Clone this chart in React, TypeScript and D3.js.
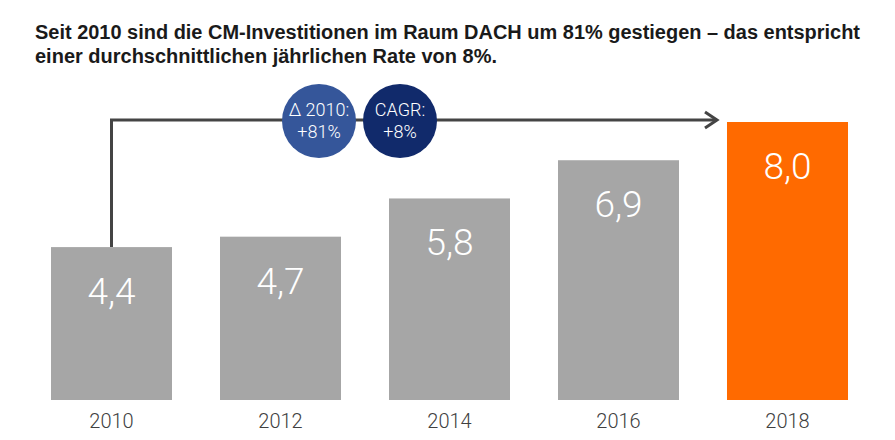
import React from 'react';
import * as d3 from 'd3';

const years = ['2010', '2012', '2014', '2016', '2018'];
const values = [4.4, 4.7, 5.8, 6.9, 8.0];
const titleLines = [
    'Seit 2010 sind die CM-Investitionen im Raum DACH um 81% gestiegen – das entspricht',
    'einer durchschnittlichen jährlichen Rate von 8%.',
];
const badges = [
    { lines: ['Δ 2010:', '+81%'], color: '#35569a' },
    { lines: ['CAGR:', '+8%'], color: '#112a6b' },
];

const W = 895;
const H = 440;

export default function App() {
    const x = d3.scaleBand<string>().domain(years).range([27, 872]).paddingInner(0.284).paddingOuter(0.142);
    const y = d3.scaleLinear().domain([0, 8]).range([400, 122]);
    const fmt = (v: number) => d3.format('.1f')(v).replace('.', ',');

    const first = years[0];
    const lineX = x(first)! + x.bandwidth() / 2;
    const lineY = 120;
    const arrowEnd = x(years[years.length - 1])! - 10;
    const linePath = d3.path();
    linePath.moveTo(lineX, y(values[0]));
    linePath.lineTo(lineX, lineY);
    linePath.lineTo(arrowEnd, lineY);

    const badgeX = [319, 400];

    return (
        <svg width={W} height={H} style={{ position: 'absolute', left: 0, top: 0 }}>
            <rect width={W} height={H} fill="#fff" />
            {titleLines.map((t, i) => (
                <text
                    key={i}
                    x={35}
                    y={39 + i * 24}
                    fontFamily="'Liberation Sans Narrow', 'Arial Narrow', 'Liberation Sans', sans-serif"
                    fontWeight="bold"
                    fontSize={20}
                    fill="#1a1a1a"
                    textLength={i === 0 ? 825 : 462}
                    lengthAdjust="spacingAndGlyphs"
                >
                    {t}
                </text>
            ))}
            {values.map((v, i) => (
                <g key={years[i]}>
                    <rect
                        x={x(years[i])}
                        y={y(v)}
                        width={x.bandwidth()}
                        height={y(0) - y(v)}
                        fill={i === values.length - 1 ? '#ff6a00' : '#a6a6a6'}
                    />
                    <text
                        x={x(years[i])! + x.bandwidth() / 2}
                        y={y(v) + 57}
                        textAnchor="middle"
                        fontFamily="Roboto, 'Liberation Sans', sans-serif"
                        fontWeight={300}
                        fontSize={37}
                        fill="#fff"
                    >
                        {fmt(v)}
                    </text>
                    <text
                        x={x(years[i])! + x.bandwidth() / 2}
                        y={428}
                        textAnchor="middle"
                        fontFamily="Roboto, 'Liberation Sans', sans-serif"
                        fontWeight={300}
                        fontSize={20}
                        fill="#404040"
                    >
                        {years[i]}
                    </text>
                </g>
            ))}
            <path d={linePath.toString()} fill="none" stroke="#444" strokeWidth={3} />
            <path
                d={`M${arrowEnd - 12},${lineY - 8}L${arrowEnd},${lineY}L${arrowEnd - 12},${lineY + 8}`}
                fill="none"
                stroke="#444"
                strokeWidth={3}
            />
            {badges.map((b, i) => (
                <g key={i} transform={`translate(${badgeX[i]},${lineY + 1})`}>
                    <circle r={37} fill={b.color} />
                    {b.lines.map((l, j) => (
                        <text
                            key={j}
                            y={-5 + j * 22}
                            textAnchor="middle"
                            fontFamily="Roboto, 'Liberation Sans', sans-serif"
                            fontWeight={300}
                            fontSize={18}
                            fill="#fff"
                        >
                            {l}
                        </text>
                    ))}
                </g>
            ))}
        </svg>
    );
}
